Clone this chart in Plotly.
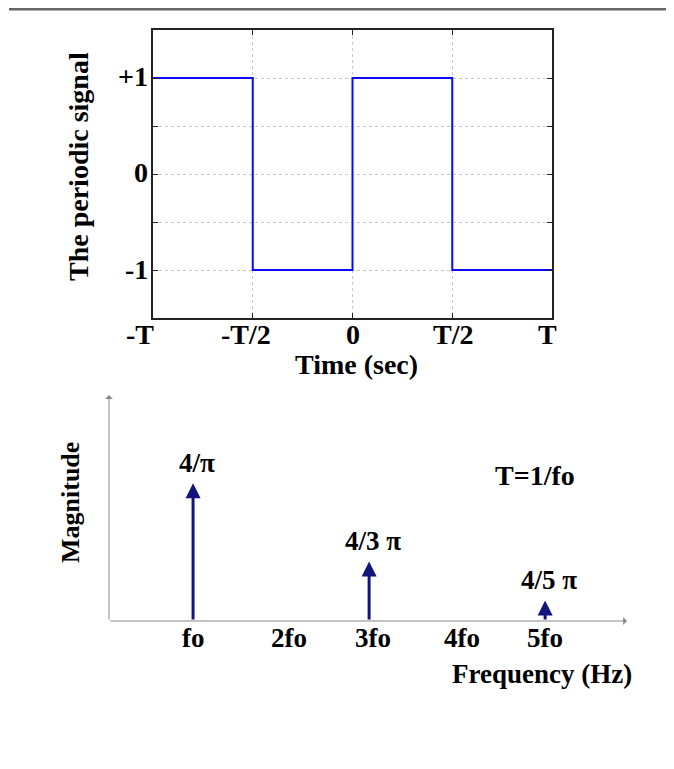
import plotly.graph_objects as go

# ---- data ----
time_breaks = [-1.0, -0.5, 0.0, 0.5, 1.0]
signal_levels = [1, -1, 1, -1, -1]
time_tickvals = [-1.0, -0.5, 0.0, 0.5, 1.0]
time_ticktext = ["-T", "-T/2", "0", "T/2", "T"]
sig_tickvals = [-1.5, -1.0, -0.5, 0.0, 0.5, 1.0, 1.5]
sig_labelvals = [-1.0, 0.0, 1.0]
sig_labeltext = ["-1", "0", "+1"]

harmonics = [1, 3, 5]
magnitudes = [1.27, 0.55, 0.19]
mag_labels = ["4/\u03c0", "4/3 \u03c0", "4/5 \u03c0"]
freq_tickvals = [1, 2, 3, 4, 5]
freq_ticktext = ["fo", "2fo", "3fo", "4fo", "5fo"]

# ---- styling / layout ----
FONT = "Liberation Serif"
PAGE_MARGIN = 8                      # default body margin of the html page
W, H = 674 - 2 * PAGE_MARGIN, 769 - 2 * PAGE_MARGIN
time_label_nudge = [-13, -7, 0, 1, -5]
freq_label_nudge = [0, 8, 4, 5, 0]


def px(x):
    return (x - PAGE_MARGIN) / W


def py(y):
    return 1 - (y - PAGE_MARGIN) / H


def bold(size):
    return dict(family=FONT, size=size, color="#000", weight="bold")


fig = go.Figure()

fig.add_trace(go.Scatter(
    x=time_breaks, y=signal_levels, mode="lines", line_shape="hv",
    line=dict(color="#0a0aff", width=2), xaxis="x", yaxis="y",
    showlegend=False, hoverinfo="skip"))

X2_RANGE = [0.045, 5.93]
Y2_RANGE = [0, 2.085]
fig.add_trace(go.Scatter(x=harmonics, y=magnitudes, mode="markers",
                         marker=dict(opacity=0), xaxis="x2", yaxis="y2",
                         showlegend=False, hoverinfo="skip"))

annotations = []
# top chart tick labels
for v, t, dx in zip(time_tickvals, time_ticktext, time_label_nudge):
    annotations.append(dict(x=v, y=-1.5, xref="x", yref="y", text=t,
                            showarrow=False, xanchor="center", yanchor="middle",
                            yshift=-16, xshift=dx, font=bold(28)))
for v, t in zip(sig_labelvals, sig_labeltext):
    annotations.append(dict(x=-1, y=v, xref="x", yref="y", text=t,
                            showarrow=False, xanchor="right", yanchor="middle",
                            xshift=-3, yshift=1, font=bold(28)))

# spectrum stems
for k, m, lab in zip(harmonics, magnitudes, mag_labels):
    annotations.append(dict(x=k, y=m, ax=k, ay=0, xref="x2", yref="y2",
                            axref="x2", ayref="y2", showarrow=True, text="",
                            arrowhead=2, arrowwidth=3, arrowsize=1,
                            arrowcolor="#14147d", standoff=0))
    annotations.append(dict(x=k, y=m, xref="x2", yref="y2", text=lab,
                            showarrow=False, xanchor="center", yanchor="bottom",
                            yshift=3, xshift=4, font=bold(27)))
for v, t, dx in zip(freq_tickvals, freq_ticktext, freq_label_nudge):
    annotations.append(dict(x=v, y=0, xref="x2", yref="y2", text=t,
                            showarrow=False, xanchor="center", yanchor="middle",
                            yshift=-17, xshift=dx, font=bold(27)))
# spectrum axis arrows
annotations.append(dict(x=X2_RANGE[1], y=0, ax=X2_RANGE[0], ay=0, xref="x2", yref="y2",
                        axref="x2", ayref="y2", showarrow=True, text="",
                        arrowhead=1, arrowwidth=1, arrowsize=1.3,
                        arrowcolor="#888", standoff=0))
annotations.append(dict(x=X2_RANGE[0], y=Y2_RANGE[1], ax=X2_RANGE[0], ay=0, xref="x2", yref="y2",
                        axref="x2", ayref="y2", showarrow=True, text="",
                        arrowhead=1, arrowwidth=1, arrowsize=1.3,
                        arrowcolor="#888", standoff=0))


def label(x, y, text, size, angle=0):
    return dict(x=px(x), y=py(y), xref="paper", yref="paper", text=text,
                textangle=angle, showarrow=False, xanchor="center",
                yanchor="middle", font=bold(size))


annotations += [
    label(78, 167, "The periodic signal", 28, -90),
    label(357, 364, "Time (sec)", 28),
    label(70, 503, "Magnitude", 26, -90),
    label(542, 674, "Frequency (Hz)", 27),
    label(535, 475, "T=1/fo", 28),
]

axis_common = dict(ticks="inside", ticklen=5, tickcolor="#222", showticklabels=False,
                   showline=True, mirror="ticks", linecolor="#222", linewidth=1.8,
                   showgrid=True, gridcolor="#c8c8c8", griddash="dot", gridwidth=1,
                   zeroline=False, automargin=False)

fig.update_layout(
    width=W, height=H, margin=dict(l=0, r=0, t=0, b=0, autoexpand=False),
    paper_bgcolor="white", plot_bgcolor="white",
    showlegend=False,
    xaxis=dict(domain=[px(153), px(552)], range=[-1, 1], anchor="y",
               tickvals=time_tickvals, **axis_common),
    yaxis=dict(domain=[py(318), py(30)], range=[-1.5, 1.5], anchor="x",
               tickvals=sig_tickvals, **axis_common),
    xaxis2=dict(domain=[px(109), px(627)], range=X2_RANGE, anchor="y2",
                visible=False, automargin=False),
    yaxis2=dict(domain=[py(621), py(395)], range=Y2_RANGE, anchor="x2",
                visible=False, automargin=False),
    annotations=annotations,
    shapes=[dict(type="rect", xref="paper", yref="paper", x0=px(9), x1=1,
                 y0=py(10.5), y1=py(6.5), fillcolor="#666", line=dict(width=0))],
)

fig.write_html("out.html")
